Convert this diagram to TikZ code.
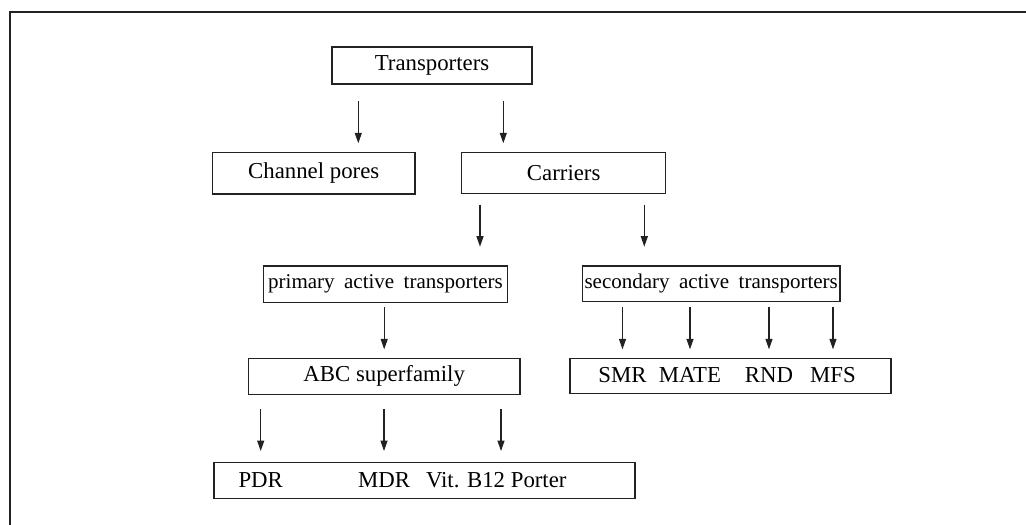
\documentclass[tikz,border=0pt]{standalone}
\usepackage{fontspec}
\setmainfont{Liberation Serif}
\newfontfamily\spacedfont[WordSpace=1.8]{Liberation Serif}
\usetikzlibrary{arrows.meta, positioning}
\definecolor{ink}{RGB}{34,34,34}
\tikzset{
  box/.style={rectangle, draw=ink, line width=1.3pt, inner sep=0pt,
    align=center, font=\fontsize{22.8}{27}\selectfont},
  smallbox/.style={box, font=\spacedfont\fontsize{21}{25}\selectfont},
  lbl/.style={inner sep=0pt, anchor=base, font=\fontsize{22.8}{27}\selectfont},
  arrow/.style={-{Triangle[length=10.5pt, width=7pt]}, line width=1.2pt, color=ink},
  frame/.style={line width=2pt, color=ink}
}

\begin{document}
\begin{tikzpicture}[x=1pt, y=-1pt]
  \useasboundingbox (0,0) rectangle (1026,525);

  % Frame (top and left only)
  \draw[frame] (1026,11.7) -- (10,11.7) -- (10,525);

  % Boxes
  \node[box, minimum width=200pt, minimum height=37pt] (trans) at (432,65.5) {Transporters};
  \node[box, minimum width=202.7pt, minimum height=41.3pt] (chan) at (313.7,173.3) {Channel pores};
  \node[box, minimum width=204pt, minimum height=41pt] (carr) at (563.7,173.1) {Carriers};
  \node[smallbox, minimum width=244.4pt, minimum height=36.3pt] (prim) at (385.5,284.2) {primary active transporters};
  \node[smallbox, minimum width=257.7pt, minimum height=35.7pt] (sec) at (711.2,283.9) {secondary active transporters};
  \node[box, minimum width=271.7pt, minimum height=36pt] (abc) at (384.2,376.3) {ABC superfamily};
  \node[box, minimum width=321pt, minimum height=35pt] (sub) at (730.5,375.8) {};
  \node[box, minimum width=421pt, minimum height=35.6pt] (fam) at (424.5,480.5) {};

  % Family labels
  \node[lbl] (pdr) at (260.7,487.7) {PDR};
  \node[lbl] (mdr) at (384,487.7) {MDR};
  \node[lbl] (vit) at (496.3,487.7) {Vit. B12 Porter};
  \node[lbl] (smr) at (622.5,382.7) {SMR};
  \node[lbl] (mate) at (690,382.7) {MATE};
  \node[lbl] (rnd) at (769,382.7) {RND};
  \node[lbl] (mfs) at (833,382.7) {MFS};

  % Arrow start points
  \coordinate (t1) at ([xshift=-73.7pt]trans.south);
  \coordinate (t2) at ([xshift=71.3pt]trans.south);
  \coordinate (c1) at ([xshift=-83.7pt]carr.south);
  \coordinate (c2) at ([xshift=80.6pt]carr.south);

  % Arrows
  \draw[arrow, shorten <=16.7pt, shorten >=8.7pt] (t1) -- (t1 |- chan.north);
  \draw[arrow, shorten <=16.7pt, shorten >=8.7pt] (t2) -- (t2 |- carr.north);
  \draw[arrow, shorten <=10.3pt, shorten >=18.7pt] (c1) -- (c1 |- prim.north);
  \draw[arrow, shorten <=10.3pt, shorten >=18.7pt] (c2) -- (c2 |- sec.north);
  \draw[arrow, shorten <=4.4pt, shorten >=8.3pt] (prim.south -| abc) -- (abc.north);
  \draw[arrow, shorten <=14pt, shorten >=11pt] (abc.south -| pdr) -- (fam.north -| pdr);
  \draw[arrow, shorten <=14pt, shorten >=11pt] (abc.south -| mdr) -- (fam.north -| mdr);
  \draw[arrow, shorten <=14pt, shorten >=11pt] ([xshift=4.7pt]abc.south -| vit) -- ([xshift=4.7pt]fam.north -| vit);
  \draw[arrow, shorten <=5pt, shorten >=8.3pt] (sec.south -| smr) -- (sub.north -| smr);
  \draw[arrow, shorten <=5pt, shorten >=8.3pt] (sec.south -| mate) -- (sub.north -| mate);
  \draw[arrow, shorten <=5pt, shorten >=8.3pt] (sec.south -| rnd) -- (sub.north -| rnd);
  \draw[arrow, shorten <=5pt, shorten >=8.3pt] (sec.south -| mfs) -- (sub.north -| mfs);
\end{tikzpicture}
\end{document}
